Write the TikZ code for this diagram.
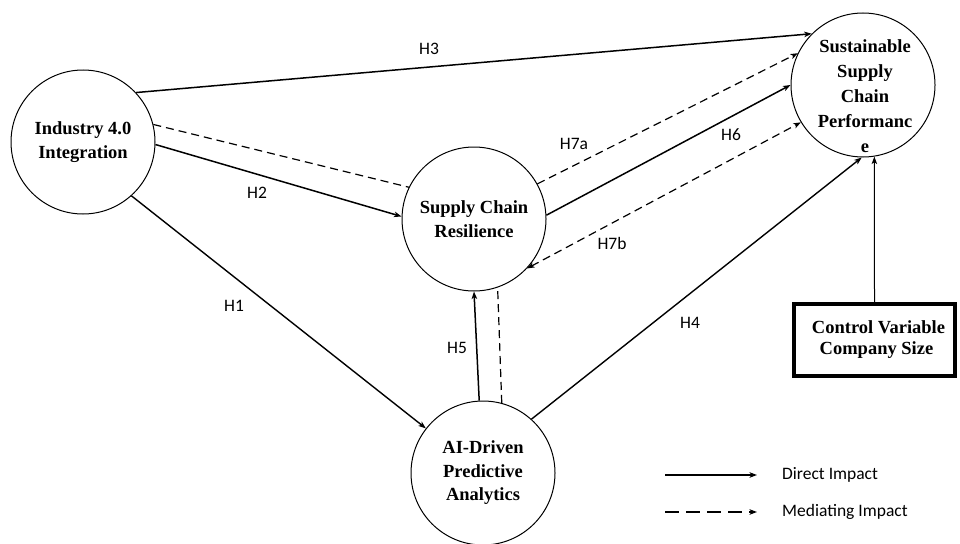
\documentclass[tikz,border=0pt]{standalone}
\usepackage{fontspec}
\setmainfont{Liberation Serif}
\newfontfamily\labfont{Carlito}
\usetikzlibrary{arrows.meta}
\begin{document}
\begin{tikzpicture}[x=1pt,y=-1pt,
  var/.style={circle,draw,line width=1pt,minimum size=144pt,inner sep=0pt,align=center,
    font=\fontsize{18.5}{23.5}\selectfont\bfseries},
  vtext/.style={align=center,inner sep=0pt,font=\fontsize{18.5}{25}\selectfont\bfseries},
  hlab/.style={font=\labfont\fontsize{17.5}{19}\selectfont,inner sep=1pt},
  leglab/.style={font=\labfont\fontsize{17.5}{19}\selectfont,inner sep=0pt,anchor=west},
  tip/.style={-{Stealth[length=7.5pt,width=5.5pt,inset=2pt]}},
  dir/.style={line width=1.5pt,tip},
  med/.style={line width=1.2pt,dash pattern=on 8pt off 5pt},
  ctrlbox/.style={draw,line width=4pt,minimum width=161pt,minimum height=72pt,align=center,
    font=\fontsize{18.5}{21}\selectfont\bfseries}
]
\useasboundingbox (0,0) rectangle (960,543);

% variables
\node[var] (ind) at (83,142) {Industry 4.0\\Integration};
\node[var] (res) at (474,219) {Supply Chain\\Resilience};
\node[var] (ai) at (483,473) {AI-Driven\\Predictive\\Analytics};
\node[var] (sscp) at (863,85) {};
\node[vtext] (sscpt) at (865,96) {Sustainable\\Supply\\Chain\\Performanc\\e};
\node[ctrlbox] (ctrl) at (874.5,340) {\hspace*{8pt}Control Variable\\\hspace*{4pt}Company Size};

% direct paths
\draw[dir] (ind.43) -- (sscp.135.5);
\draw[dir] (ind.-2.5) -- (res.178);
\draw[dir] (res.3) -- (sscp.180);
\draw[dir,line width=1.4pt] (ind.-48) -- (ai.142);
\draw[dir] (ai.93) -- (res.-90);
\draw[dir,line width=1.4pt] (ai.48.6) -- (sscp.-91);
\draw[line width=1pt,tip] (ctrl.north) -- (sscp.-81);

% mediating paths
\draw[med] (ind.14) -- (res.154);
\draw[med,tip] (res.29) -- (sscp.154);
\draw[med] (ai.75) -- (res.-71.5);
\draw[med,{Stealth[length=7.5pt,width=5.5pt,inset=2pt]}-{Stealth[length=7.5pt,width=5.5pt,inset=2pt]}] (res.-43) -- (sscp.-149);

% labels
\node[hlab] (h3) at (429,49) {H3};
\node[hlab] (h2) at (257,193) {H2};
\node[hlab] (h7a) at (574,144) {H7a};
\node[hlab] (h6) at (731,135) {H6};
\node[hlab] (h7b) at (612,243) {H7b};
\node[hlab] (h1) at (234,306) {H1};
\node[hlab] (h5) at (457,348) {H5};
\node[hlab] (h4) at (690,323) {H4};

% legend
\coordinate (l1a) at (665,475);
\coordinate (l1b) at (757,475);
\coordinate (l2a) at (665,512);
\coordinate (l2b) at (757,512);
\draw[line width=1.3pt,tip] (l1a) -- (l1b);
\draw[line width=1.3pt,dash pattern=on 14pt off 7pt,tip] (l2a) -- (l2b);
\node[leglab] (ld) at (782,475) {Direct Impact};
\node[leglab] (lm) at (782,512) {Mediating Impact};
\end{tikzpicture}
\end{document}
